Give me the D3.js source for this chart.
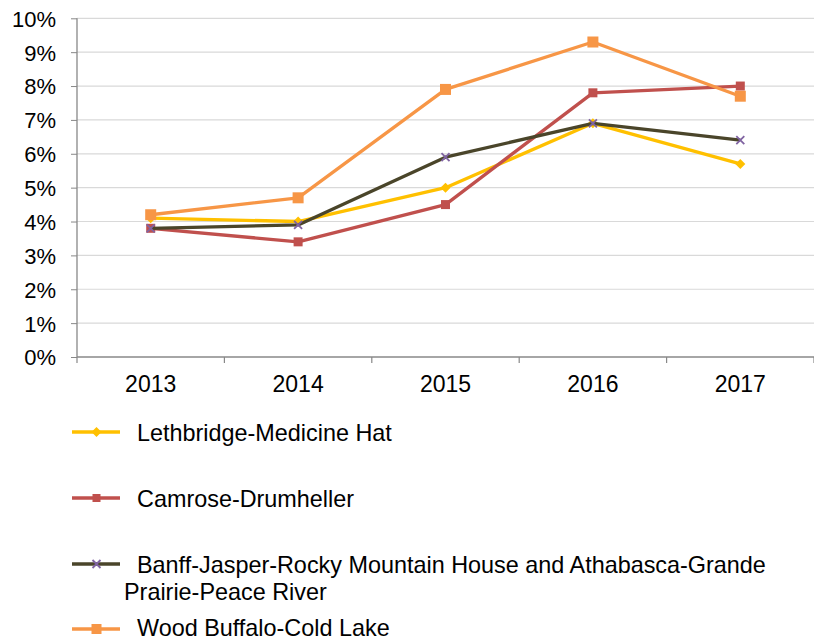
<!DOCTYPE html>
<html><head><meta charset="utf-8">
<script src="https://cdn.jsdelivr.net/npm/d3@7"></script>
<style>body{margin:0;background:#fff}svg{display:block}text{font-family:"Liberation Sans",Arial,sans-serif}</style>
</head><body>
<svg id="c" width="814" height="640"></svg>
<script>
const years = ["2013","2014","2015","2016","2017"];
const yTicks = [0,1,2,3,4,5,6,7,8,9,10];
const lethbridge = [4.1, 4.0, 5.0, 6.9, 5.7];
const camrose = [3.8, 3.4, 4.5, 7.8, 8.0];
const banff = [3.8, 3.9, 5.9, 6.9, 6.4];
const woodBuffalo = [4.2, 4.7, 7.9, 9.3, 7.7];
const seriesNames = ["Lethbridge-Medicine Hat","Camrose-Drumheller","Banff-Jasper-Rocky Mountain House and Athabasca-Grande Prairie-Peace River","Wood Buffalo-Cold Lake"];

const series = [
  {name: seriesNames[0], values: lethbridge, color: "#FFC000", marker: "diamond", mcolor: "#FFC000"},
  {name: seriesNames[1], values: camrose, color: "#C0504D", marker: "square", mcolor: "#C0504D", size: 9},
  {name: seriesNames[2], values: banff, color: "#4A452A", marker: "x", mcolor: "#8064A2"},
  {name: seriesNames[3], values: woodBuffalo, color: "#F79646", marker: "square", mcolor: "#F79646", size: 11}
];

const svg = d3.select("#c");
const x = d3.scaleBand().domain(years).range([77, 814]);
const y = d3.scaleLinear().domain([0, 10]).range([357, 18.3]);

// gridlines
svg.append("g").selectAll("line").data(yTicks.slice(1)).join("line")
  .attr("x1", 77).attr("x2", 814).attr("y1", d => y(d)).attr("y2", d => y(d))
  .attr("stroke", "#d9d9d9").attr("stroke-width", 1.2);

// y axis
const ya = svg.append("g").attr("transform", "translate(77,0)")
  .call(d3.axisLeft(y).tickValues(yTicks).tickSize(6).tickPadding(15).tickFormat(d => d + "%"));
ya.select(".domain").attr("stroke", "#888").attr("stroke-width", 1.3).attr("d", `M-0,${y(10)}V${y(0)}`);
ya.selectAll(".tick line").attr("stroke", "#888");
ya.selectAll(".tick text").attr("font-size", 22).attr("fill", "#000").attr("dy", "0.36em")
  .attr("font-family", "Liberation Sans, Arial, sans-serif");

// x axis
const xa = svg.append("g").attr("transform", `translate(0,${y(0)})`)
  .call(d3.axisBottom(x).tickSize(0).tickPadding(0));
xa.select(".domain").attr("stroke", "#888").attr("stroke-width", 1.3).attr("d", `M77,0H814`);
xa.selectAll(".tick text").attr("font-size", 23).attr("fill", "#000").attr("dy", 0).attr("y", 35)
  .attr("font-family", "Liberation Sans, Arial, sans-serif");
// boundary ticks
xa.append("g").selectAll("line").data(d3.range(years.length + 1)).join("line")
  .attr("x1", i => 77 + i * x.step()).attr("x2", i => 77 + i * x.step())
  .attr("y1", 0).attr("y2", 6).attr("stroke", "#888").attr("stroke-width", 1.2);

const cx = d => x(d) + x.bandwidth() / 2;

function drawMarker(g, type, px, py, color, size) {
  if (type === "square") {
    const s = size || 9;
    g.append("rect").attr("x", px - s/2).attr("y", py - s/2).attr("width", s).attr("height", s).attr("fill", color);
  } else if (type === "diamond") {
    const s = 5;
    g.append("path").attr("d", `M${px},${py-s}L${px+s},${py}L${px},${py+s}L${px-s},${py}Z`).attr("fill", color);
  } else if (type === "x") {
    const s = 4;
    g.append("path").attr("d", `M${px-s},${py-s}L${px+s},${py+s}M${px-s},${py+s}L${px+s},${py-s}`)
      .attr("stroke", color).attr("stroke-width", 1.8);
  }
}

const line = d3.line().x((d, i) => cx(years[i])).y(d => y(d));
series.forEach(s => {
  const g = svg.append("g");
  g.append("path").attr("d", line(s.values)).attr("fill", "none").attr("stroke", s.color)
    .attr("stroke-width", 3.3).attr("stroke-linejoin", "round");
  s.values.forEach((v, i) => drawMarker(g, s.marker, cx(years[i]), y(v), s.mcolor, s.size));
});

// legend
const legendY = [432, 498, 564, 629];
series.forEach((s, i) => {
  const g = svg.append("g");
  const ly = legendY[i];
  g.append("line").attr("x1", 72).attr("x2", 120).attr("y1", ly).attr("y2", ly)
    .attr("stroke", s.color).attr("stroke-width", 3.3);
  drawMarker(g, s.marker, 96.5, ly, s.mcolor, s.size ? s.size - 1 : undefined);
  const t = g.append("text").attr("x", 137).attr("y", i === 3 ? ly + 7 : ly + 8.5).attr("font-size", 23.4).attr("fill", "#000");
  if (i === 2) {
    t.append("tspan").attr("x", 137).text("Banff-Jasper-Rocky Mountain House and Athabasca-Grande");
    t.append("tspan").attr("x", 124).attr("dy", 27).text("Prairie-Peace River");
  } else {
    t.text(s.name);
  }
});
</script>
</body></html>
